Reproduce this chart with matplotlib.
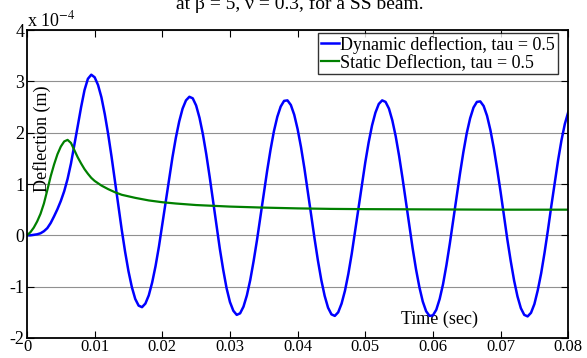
import matplotlib
matplotlib.use("Agg")
import matplotlib.pyplot as plt

plt.rcParams['font.family'] = ['Liberation Serif', 'DejaVu Serif']
plt.rcParams['mathtext.fontset'] = 'stix'
plt.rcParams['axes.unicode_minus'] = False

# time samples (sec)
t_dyn = [0.0000, 0.0005, 0.0010, 0.0015, 0.0020, 0.0025, 0.0030, 0.0035, 0.0040, 0.0045,
         0.0050, 0.0055, 0.0060, 0.0065, 0.0070, 0.0075, 0.0080, 0.0085, 0.0090, 0.0095,
         0.0100, 0.0105, 0.0110, 0.0115, 0.0120, 0.0125, 0.0130, 0.0135, 0.0140, 0.0145,
         0.0150, 0.0155, 0.0160, 0.0165, 0.0170, 0.0175, 0.0180, 0.0185, 0.0190, 0.0195,
         0.0200, 0.0205, 0.0210, 0.0215, 0.0220, 0.0225, 0.0230, 0.0235, 0.0240, 0.0245,
         0.0250, 0.0255, 0.0260, 0.0265, 0.0270, 0.0275, 0.0280, 0.0285, 0.0290, 0.0295,
         0.0300, 0.0305, 0.0310, 0.0315, 0.0320, 0.0325, 0.0330, 0.0335, 0.0340, 0.0345,
         0.0350, 0.0355, 0.0360, 0.0365, 0.0370, 0.0375, 0.0380, 0.0385, 0.0390, 0.0395,
         0.0400, 0.0405, 0.0410, 0.0415, 0.0420, 0.0425, 0.0430, 0.0435, 0.0440, 0.0445,
         0.0450, 0.0455, 0.0460, 0.0465, 0.0470, 0.0475, 0.0480, 0.0485, 0.0490, 0.0495,
         0.0500, 0.0505, 0.0510, 0.0515, 0.0520, 0.0525, 0.0530, 0.0535, 0.0540, 0.0545,
         0.0550, 0.0555, 0.0560, 0.0565, 0.0570, 0.0575, 0.0580, 0.0585, 0.0590, 0.0595,
         0.0600, 0.0605, 0.0610, 0.0615, 0.0620, 0.0625, 0.0630, 0.0635, 0.0640, 0.0645,
         0.0650, 0.0655, 0.0660, 0.0665, 0.0670, 0.0675, 0.0680, 0.0685, 0.0690, 0.0695,
         0.0700, 0.0705, 0.0710, 0.0715, 0.0720, 0.0725, 0.0730, 0.0735, 0.0740, 0.0745,
         0.0750, 0.0755, 0.0760, 0.0765, 0.0770, 0.0775, 0.0780, 0.0785, 0.0790, 0.0795,
         0.0800]

# dynamic deflection, units of 1e-4 m
dyn = [0.00, 0.00, 0.01, 0.02, 0.04, 0.08, 0.14, 0.24, 0.37, 0.51,
       0.67, 0.86, 1.10, 1.40, 1.76, 2.13, 2.50, 2.83, 3.05, 3.13,
       3.08, 2.93, 2.69, 2.36, 1.97, 1.53, 1.06, 0.58, 0.11, -0.32,
       -0.70, -1.01, -1.24, -1.37, -1.40, -1.33, -1.17, -0.92, -0.60, -0.22,
       0.21, 0.65, 1.09, 1.52, 1.90, 2.22, 2.47, 2.63, 2.70, 2.67,
       2.53, 2.29, 1.97, 1.58, 1.14, 0.67, 0.19, -0.26, -0.67, -1.03,
       -1.30, -1.47, -1.55, -1.52, -1.39, -1.17, -0.87, -0.50, -0.09, 0.36,
       0.82, 1.26, 1.67, 2.03, 2.31, 2.51, 2.62, 2.63, 2.54, 2.35,
       2.07, 1.72, 1.31, 0.86, 0.40, -0.06, -0.49, -0.87, -1.18, -1.41,
       -1.54, -1.57, -1.50, -1.33, -1.08, -0.75, -0.36, 0.08, 0.53, 0.98,
       1.42, 1.81, 2.14, 2.39, 2.56, 2.63, 2.60, 2.47, 2.24, 1.93,
       1.55, 1.12, 0.66, 0.20, -0.25, -0.66, -1.01, -1.29, -1.48, -1.57,
       -1.56, -1.45, -1.24, -0.95, -0.58, -0.16, 0.29, 0.75, 1.20, 1.62,
       1.99, 2.28, 2.49, 2.60, 2.61, 2.52, 2.33, 2.05, 1.70, 1.29,
       0.85, 0.38, -0.08, -0.50, -0.88, -1.19, -1.42, -1.55, -1.58, -1.51,
       -1.34, -1.07, -0.74, -0.34, 0.10, 0.57, 1.02, 1.46, 1.85, 2.17,
       2.40]

t_sta = [0.0, 0.0005, 0.001, 0.0015, 0.002, 0.0025, 0.003, 0.0035, 0.004, 0.0045,
         0.005, 0.0055, 0.006, 0.0065, 0.007, 0.0075, 0.008, 0.0085, 0.009, 0.0095,
         0.010, 0.011, 0.012, 0.013, 0.014, 0.015, 0.016, 0.018, 0.020, 0.022,
         0.025, 0.030, 0.035, 0.040, 0.045, 0.050, 0.060, 0.070, 0.080]
sta = [0.0, 0.06, 0.15, 0.27, 0.42, 0.62, 0.88, 1.15, 1.38, 1.58,
       1.73, 1.83, 1.86, 1.80, 1.66, 1.52, 1.40, 1.29, 1.20, 1.12,
       1.06, 0.97, 0.90, 0.84, 0.79, 0.76, 0.73, 0.68, 0.645, 0.62,
       0.59, 0.56, 0.54, 0.525, 0.515, 0.51, 0.505, 0.50, 0.50]

xticks = [0, 0.01, 0.02, 0.03, 0.04, 0.05, 0.06, 0.07, 0.08]
xlabels = ['0', '0.01', '0.02', '0.03', '0.04', '0.05', '0.06', '0.07', '0.08']
yticks = [-2, -1, 0, 1, 2, 3, 4]

fs = 13

fig = plt.figure(figsize=(5.87, 3.58), dpi=100)
ax = fig.add_axes([0.046, 0.056, 0.922, 0.860])

ax.plot(t_dyn, dyn, color=(0, 0, 1), lw=1.8, label='Dynamic deflection, tau = 0.5')
ax.plot(t_sta, sta, color=(0, 0.5, 0), lw=1.6, label='Static Deflection, tau = 0.5')

ax.set_xlim(0, 0.08)
ax.set_ylim(-2, 4)
ax.set_xticks(xticks)
ax.set_xticklabels(xlabels)
ax.set_yticks(yticks)
ax.tick_params(direction='in', top=True, right=True, labelsize=fs, length=5, width=0.8, pad=2)
ax.tick_params(axis='x', labelsize=12, pad=0.5)
ax.yaxis.grid(True, color='#909090', lw=0.8)
ax.set_axisbelow(True)
for s in ax.spines.values():
    s.set_linewidth(1.3)

ax.set_xlabel('Time (sec)', fontsize=fs)
ax.xaxis.set_label_coords(0.763, 0.09)
ax.set_ylabel('Deflection (m)', fontsize=fs)
ax.yaxis.set_label_coords(0.045, 0.646)

ax.text(0.0, 1.0, r'x 10$^{-4}$', transform=ax.transAxes, ha='left', va='bottom', fontsize=fs)

leg = ax.legend(loc='upper right', bbox_to_anchor=(0.981, 0.99), borderaxespad=0,
                fontsize=fs, frameon=True, fancybox=False, handlelength=1.0,
                handletextpad=0.1, borderpad=0.15, labelspacing=0.05)
leg.get_frame().set_edgecolor('black')
leg.get_frame().set_linewidth(1.0)

fig.text(0.51, 0.975, 'at β = 5, ν = 0.3, for a SS beam.', ha='center', va='baseline', fontsize=14)

fig.savefig('out.png', dpi=100)
